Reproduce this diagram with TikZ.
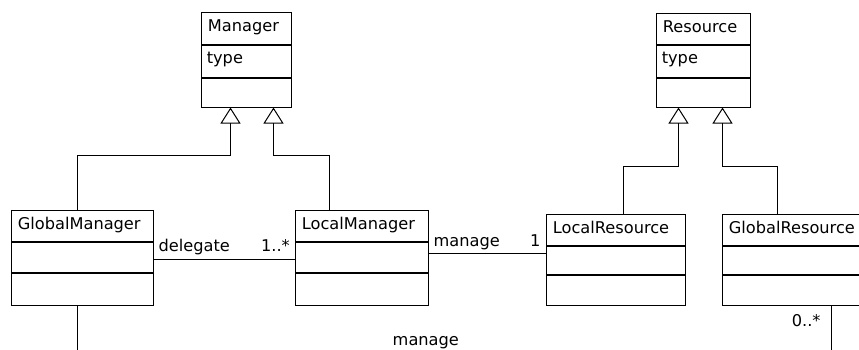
\documentclass[tikz,border=0pt]{standalone}
\usepackage{fontspec}
\setmainfont{DejaVu Sans}
\usetikzlibrary{arrows.meta,calc}

\tikzset{
  x=1pt, y=1pt,
  classframe/.style={draw, line width=1pt, rectangle, inner sep=0pt, outer sep=0pt, anchor=north west},
  sepline/.style={line width=2.2pt},
  classtitle/.style={anchor=base west, inner sep=0pt},
  assoc/.style={draw, line width=1pt},
  gen/.style={draw, line width=1pt, -{Triangle[open, length=16pt, width=20pt]}},
  lbl/.style={inner sep=0pt},
}

% UML class box: name, left, top, right, bottom, first rule, second rule, title, attribute
\newcommand\umlclass[9]{%
  \node[classframe, minimum width={#4pt-#2pt}, minimum height={#5pt-#3pt}] (#1) at (#2,-#3) {};
  \draw[sepline] (#2,-#6) -- (#4,-#6);
  \draw[sepline] (#2,-#7) -- (#4,-#7);
  \node[classtitle] (#1-title) at (#2+6.2,-#3-18.7) {#8};
  \if\relax\detokenize{#9}\relax\else
    \node[classtitle] (#1-attr) at (#2+5.1,-#6-18) {#9};
  \fi
}

\begin{document}
\begin{tikzpicture}[font=\fontsize{16.2}{19}\selectfont]
  \fill[white] (0,0) rectangle (859,-349);
  \useasboundingbox (0,0) rectangle (859,-349);
  \clip (0,0) rectangle (859,-349);

  % classes
  \umlclass{mgr}{201.5}{12.5}{291.5}{107.5}{45}{78}{Manager}{type}
  \umlclass{res}{656.5}{13.5}{750.5}{107.5}{45}{78}{Resource}{type}
  \umlclass{gm}{11.5}{210.5}{153.5}{305.5}{242}{273}{GlobalManager}{}
  \umlclass{lm}{295.5}{210.5}{428.5}{305.5}{242}{273}{LocalManager}{}
  \umlclass{lr}{546.5}{214.5}{685.5}{305.5}{246}{275}{LocalResource}{}
  \umlclass{gr}{722.5}{214.5}{871}{305.5}{246}{275}{GlobalResource}{}

  % generalizations
  \draw[gen] ($(gm.north west)+(66,0)$) -- ++(0,55) -| ($(mgr.south west)+(29,0)$);
  \draw[gen] ($(lm.north west)+(34,0)$) -- ++(0,55) -| ($(mgr.south west)+(72,0)$);
  \draw[gen] ($(lr.north west)+(77,0)$) -- ++(0,48) -| ($(res.south west)+(22,0)$);
  \draw[gen] ($(gr.north west)+(55,0)$) -- ++(0,48) -| ($(res.south west)+(66,0)$);

  % associations
  \draw[assoc] ($(gm.north east)+(0,-49)$) coordinate (dlgA) -- (dlgA -| lm.west);
  \node[lbl, anchor=base west] (dlg) at (158.4,-251.7) {delegate};
  \node[lbl, anchor=base east] (dlgm) at (290,-251.7) {1..*};

  \draw[assoc] ($(lm.north east)+(0,-43)$) coordinate (mngA) -- (mngA -| lr.west);
  \node[lbl, anchor=base west] (mng) at (433.5,-246.7) {manage};
  \node[lbl, anchor=base east] (mngm) at (540.6,-246.7) {1};

  \draw[assoc] ($(gm.south west)+(66,0)$) -- ++(0,-60) -| ($(gr.south west)+(109,0)$);
  \node[lbl, anchor=base] (mngg) at (425.8,-345) {manage};
  \node[lbl, anchor=base east] (mnggm) at (820.7,-326.7) {0..*};
\end{tikzpicture}
\end{document}
